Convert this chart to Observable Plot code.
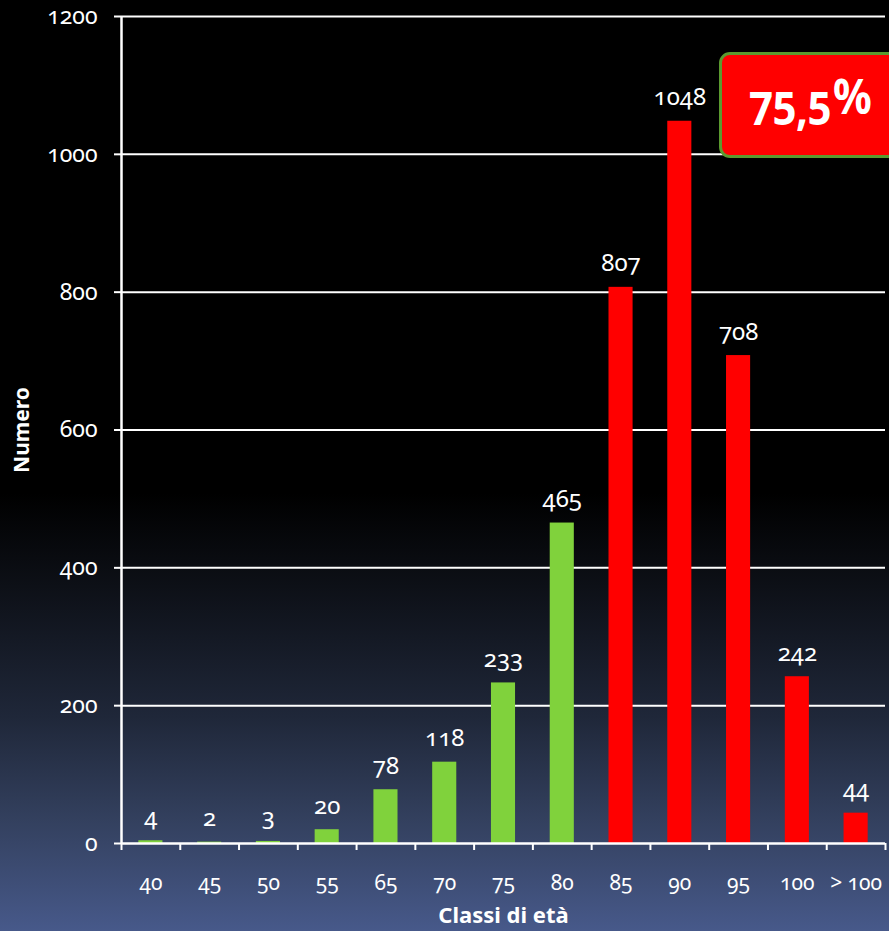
<!DOCTYPE html>
<html>
<head>
<meta charset="utf-8">
<script src="https://cdn.jsdelivr.net/npm/d3@7"></script>
<script src="https://cdn.jsdelivr.net/npm/@observablehq/plot@0.6"></script>
<style>
  html, body { margin: 0; padding: 0; }
  body { width: 889px; height: 931px; overflow: hidden; }
  #wrap {
    position: relative; width: 889px; height: 931px; overflow: hidden;
    background: linear-gradient(to bottom, #000 0%, #000 53%, #0d1017 63%, #1f2739 77%, #33405e 88%, #47598a 100%);
    font-family: "Noto Sans", sans-serif;
  }
  #wrap svg { position: absolute; left: 0; top: 0; background: transparent; }
  #wrap svg text { font-variant-numeric: oldstyle-nums !important; }
  #callout {
    position: absolute; left: 719px; top: 52px; width: 180px; height: 100px;
    background: #ff0000; border: 3px solid #5b9a2f; border-radius: 11px;
    color: #fff; font-family: "Noto Sans", sans-serif; font-weight: bold;
  }
  #callout .num { position: absolute; left: 27px; top: 27px; font-size: 42px; line-height: 1; letter-spacing: -0.5px; transform: scaleY(1.12); transform-origin: left top; white-space: nowrap; }
  #callout .pct { font-size: 43px; position: relative; top: -9px; margin-left: 2px; }
</style>
</head>
<body>
<div id="wrap">
  <div id="chart"></div>
  <div id="callout"><span class="num">75,5<span class="pct">%</span></span></div>
</div>
<script>
const categories = ["40", "45", "50", "55", "65", "70", "75", "80", "85", "90", "95", "100", "> 100"];
const values = [4, 2, 3, 20, 78, 118, 233, 465, 807, 1048, 708, 242, 44];
const groups = ["under85", "under85", "under85", "under85", "under85", "under85", "under85", "under85", "over85", "over85", "over85", "over85", "over85"];
const yTicks = [0, 200, 400, 600, 800, 1000, 1200];

const data = categories.map((c, i) => ({i, label: c, value: values[i], group: groups[i]}));
const half = 0.205; // half bar width in band units

const chart = Plot.plot({
  width: 889,
  height: 931,
  marginLeft: 121,
  marginRight: 4,
  marginTop: 16,
  marginBottom: 88,
  style: {background: "transparent", color: "#fff", fontFamily: "Noto Sans, sans-serif", fontSize: "21px"},
  x: {type: "linear", domain: [0, categories.length], axis: null},
  y: {domain: [0, 1200], axis: null},
  color: {domain: ["under85", "over85"], range: ["#80d23c", "#ff0000"]},
  marks: [
    Plot.ruleY(yTicks.filter(d => d > 0), {stroke: "#fff", strokeWidth: 2, strokeOpacity: 1}),
    Plot.axisY({ticks: yTicks, tickSize: 7, tickPadding: 17, tickFormat: d => String(d), stroke: "#fff", strokeWidth: 2, strokeOpacity: 1, fontSize: 23, label: null}),
    Plot.rectY(data, {x1: d => d.i + 0.5 - half, x2: d => d.i + 0.5 + half, y: "value", fill: "group"}),
    Plot.text(data, {x: d => d.i + 0.5, y: "value", text: d => String(d.value), lineAnchor: "bottom", dy: -16, fill: "#fff", fontSize: 24}),
    Plot.ruleX([0], {stroke: "#fff", strokeWidth: 2.5}),
    Plot.ruleY([0], {stroke: "#fff", strokeWidth: 2.5}),
    Plot.axisX({ticks: d3.range(0, categories.length + 1), tickSize: 7, tickFormat: () => "", stroke: "#fff", strokeWidth: 2, strokeOpacity: 1, label: null}),
    Plot.axisX({ticks: d3.range(0, categories.length).map(i => i + 0.5), tickSize: 0, tickPadding: 32, tickFormat: (d) => categories[Math.floor(d)], fontSize: 21, label: null}),
    Plot.text(["Classi di età"], {frameAnchor: "bottom", dy: 79, fontWeight: "bold", fontSize: 22, fill: "#fff"}),
    Plot.text(["Numero"], {frameAnchor: "left", textAnchor: "middle", dx: -99, dy: 0, rotate: -90, fontWeight: "bold", fontSize: 21, fill: "#fff"})
  ]
});
document.getElementById("chart").appendChild(chart);
</script>
</body>
</html>
